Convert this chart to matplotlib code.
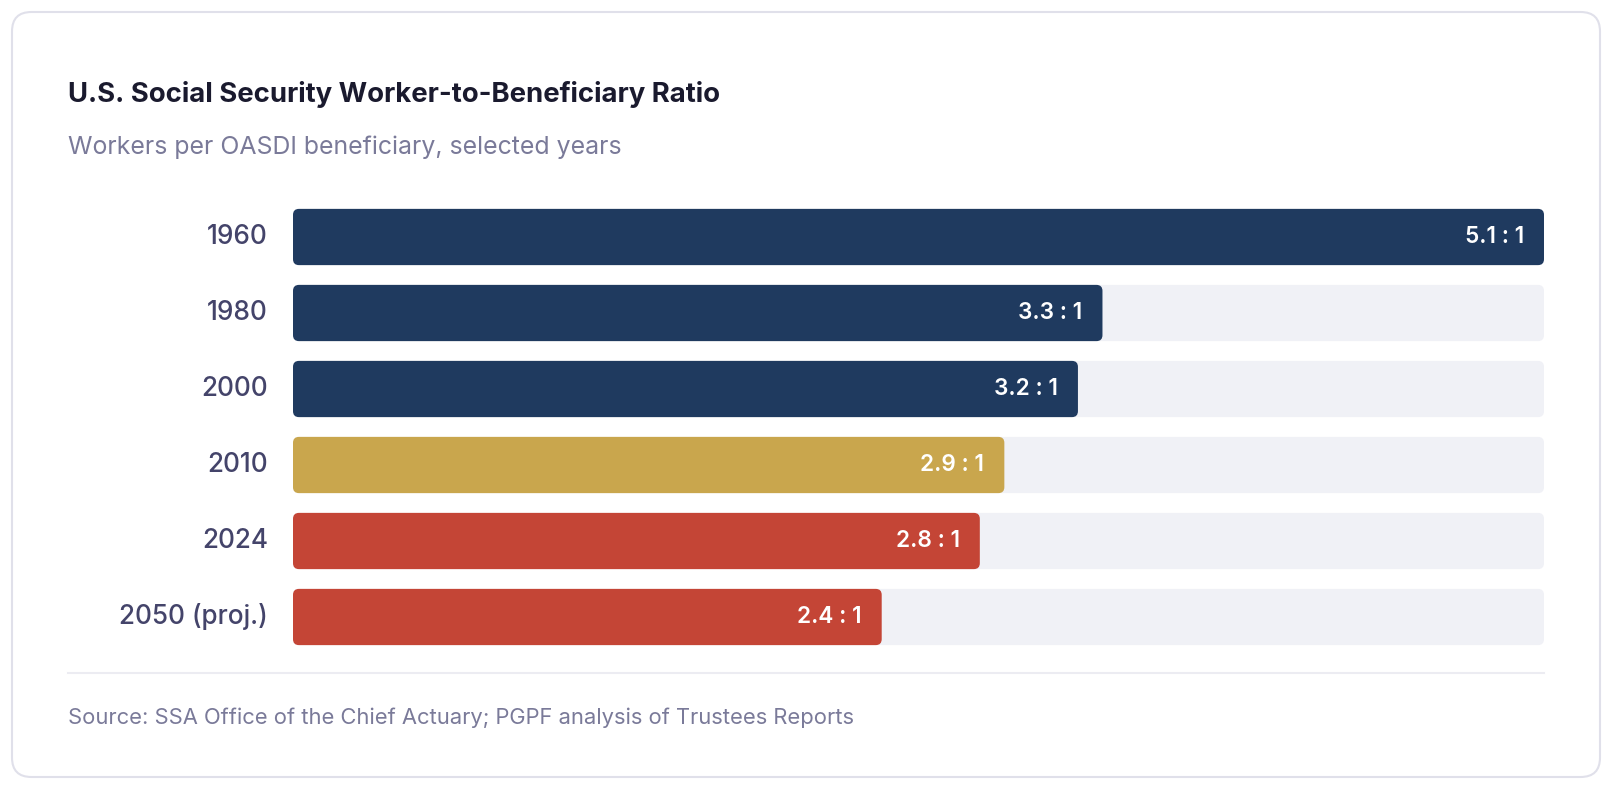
import matplotlib.pyplot as plt
from matplotlib.patches import FancyBboxPatch
from matplotlib.lines import Line2D

plt.rcParams['font.family'] = ['Inter', 'DejaVu Sans']

# data
years = ['1960', '1980', '2000', '2010', '2024', '2050 (proj.)']
ratios = [5.1, 3.3, 3.2, 2.9, 2.8, 2.4]
bar_colors = ['#1f3a5f', '#1f3a5f', '#1f3a5f', '#c9a64d', '#c44536', '#c44536']

W, H = 1620, 798
fig = plt.figure(figsize=(W / 100, H / 100), dpi=100)
fig.patch.set_facecolor('white')

# card
card = FancyBboxPatch((12 / W, (H - 777) / H), (1600 - 12) / W, (777 - 12) / H,
                      boxstyle='round,pad=0,rounding_size=0.012',
                      mutation_aspect=W / H,
                      transform=fig.transFigure, facecolor='white',
                      edgecolor='#e0e0ea', linewidth=1.5, zorder=-10)
fig.patches.append(card)

fig.text(68 / W, 1 - 95 / H, 'U.S. Social Security Worker-to-Beneficiary Ratio',
         fontsize=19.8, fontweight='bold', color='#1a1a2e', va='center', ha='left')
fig.text(68 / W, 1 - 147 / H, 'Workers per OASDI beneficiary, selected years',
         fontsize=17.9, color='#7a7a99', va='center', ha='left')
fig.text(68 / W, 1 - 718 / H, 'Source: SSA Office of the Chief Actuary; PGPF analysis of Trustees Reports',
         fontsize=15.8, color='#7a7a99', va='center', ha='left')
fig.lines.append(Line2D([68 / W, 1544 / W], [1 - 673 / H, 1 - 673 / H],
                        transform=fig.transFigure, color='#ececf2', linewidth=1.5))

# axes
x0, x1 = 293, 1544
y_top, y_bot = 199, 655
ax = fig.add_axes([x0 / W, 1 - y_bot / H, (x1 - x0) / W, (y_bot - y_top) / H])
xmax = max(ratios)
ax.set_xlim(0, xmax)
ax.set_ylim(len(years) - 0.5, -0.5)
ax.axis('off')

px_x = xmax / (x1 - x0)
px_y = len(years) / (y_bot - y_top)
r = 6 * px_x
aspect = px_y / px_x
bh = 0.74

for i, (yr, v, c) in enumerate(zip(years, ratios, bar_colors)):
    track = FancyBboxPatch((0, i - bh / 2), xmax, bh,
                           boxstyle=f'round,pad=0,rounding_size={r}',
                           mutation_aspect=aspect, facecolor='#f0f1f6',
                           edgecolor='none')
    ax.add_patch(track)
    bar = FancyBboxPatch((0, i - bh / 2), v, bh,
                         boxstyle=f'round,pad=0,rounding_size={r}',
                         mutation_aspect=aspect, facecolor=c, edgecolor='none')
    ax.add_patch(bar)
    ax.annotate(f'{v:.1f} : 1', xy=(v, i), xytext=(-20, 0),
                textcoords='offset pixels', ha='right', va='center',
                fontsize=16.3, fontweight='semibold', color='white')
    ax.annotate(yr, xy=(0, i), xytext=(-25, 0), textcoords='offset pixels',
                ha='right', va='center', fontsize=18.8, fontweight='medium',
                color='#44446a', annotation_clip=False)

fig.savefig('out.png', dpi=100, facecolor='white')
